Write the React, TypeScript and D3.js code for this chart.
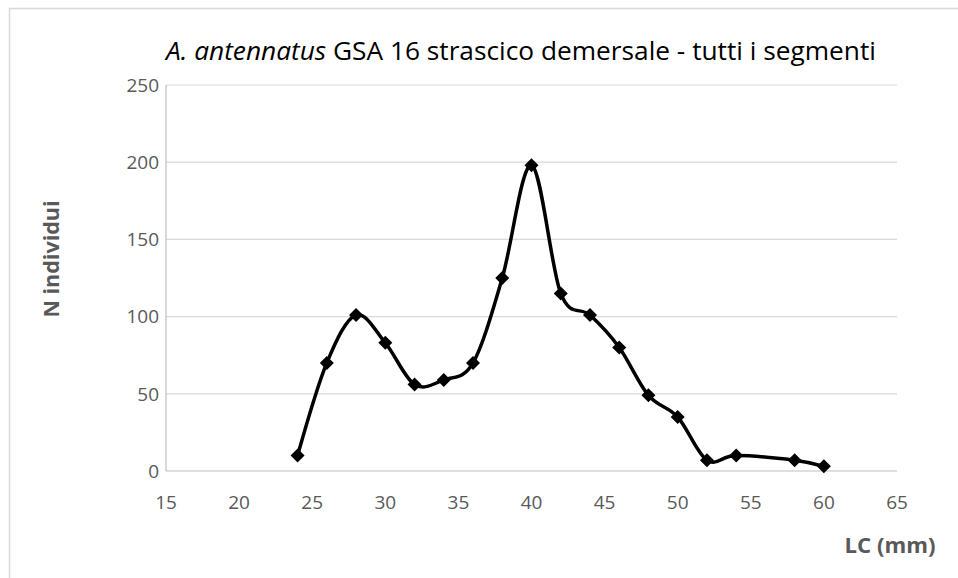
import React from "react";
import * as d3 from "d3";

const lcValues = [24, 26, 28, 30, 32, 34, 36, 38, 40, 42, 44, 46, 48, 50, 52, 54, 58, 60];
const nValues = [10, 70, 101, 83, 56, 59, 70, 125, 198, 115, 101, 80, 49, 35, 7, 10, 7, 3];
const xTicks = [15, 20, 25, 30, 35, 40, 45, 50, 55, 60, 65];
const yTicks = [0, 50, 100, 150, 200, 250];

const W = 958;
const H = 578;
const left = 166;
const right = 897;
const top = 85;
const bottom = 471;
const font = "'Open Sans', 'Liberation Sans', sans-serif";
const gray = "#595959";

export default function App() {
  const x = d3.scaleLinear().domain([15, 65]).range([left, right]);
  const y = d3.scaleLinear().domain([0, 250]).range([bottom, top]);
  const pts: [number, number][] = lcValues.map((v, i) => [v, nValues[i]]);
  const line = d3
    .line<[number, number]>()
    .x((d) => x(d[0]))
    .y((d) => y(d[1]))
    .curve(d3.curveCardinal.tension(0));
  const diamond = d3.symbol().type(d3.symbolDiamond2).size(125)();

  return (
    <svg
      width={W}
      height={H}
      style={{ position: "absolute", left: 0, top: 0, background: "#fff" }}
    >
      <rect x={0} y={0} width={W} height={H} fill="#fff" />
      <rect x={9.5} y={8.5} width={W + 20} height={H + 20} fill="none" stroke="#d9d9d9" strokeWidth={1.5} />
      {/* gridlines */}
      {yTicks.map((t) =>
        t === 0 ? null : (
          <line key={t} x1={left} x2={right} y1={y(t)} y2={y(t)} stroke="#d9d9d9" strokeWidth={1.2} />
        )
      )}
      {/* axes */}
      <line x1={left} x2={left} y1={top} y2={bottom} stroke="#bfbfbf" strokeWidth={1.2} />
      <line x1={left} x2={right} y1={bottom} y2={bottom} stroke="#bfbfbf" strokeWidth={1.2} />
      {/* y tick labels */}
      {yTicks.map((t) => (
        <text
          key={t}
          x={left - 7}
          y={y(t)}
          dy="0.36em"
          textAnchor="end"
          fontFamily={font}
          fontSize={19}
          fill={gray}
        >
          {t}
        </text>
      ))}
      {/* x tick labels */}
      {xTicks.map((t) => (
        <text
          key={t}
          x={x(t)}
          y={502}
          dy="0.36em"
          textAnchor="middle"
          fontFamily={font}
          fontSize={19}
          fill={gray}
        >
          {t}
        </text>
      ))}
      {/* series */}
      <path d={line(pts) || ""} fill="none" stroke="#000" strokeWidth={3.5} />
      {pts.map((p, i) => (
        <path key={i} d={diamond || ""} transform={`translate(${x(p[0])},${y(p[1])})`} fill="#000" />
      ))}
      {/* title */}
      <text
        x={521}
        y={51}
        dy="0.36em"
        textAnchor="middle"
        fontFamily={font}
        fontSize={25}
        fill="#000"
        textLength={710}
        lengthAdjust="spacingAndGlyphs"
      >
        <tspan fontStyle="italic">A. antennatus</tspan>
        <tspan> GSA 16 strascico demersale - tutti i segmenti</tspan>
      </text>
      {/* axis titles */}
      <text
        transform={`translate(51,259) rotate(-90)`}
        dy="0.36em"
        textAnchor="middle"
        fontFamily={font}
        fontSize={21}
        fontWeight="bold"
        fill={gray}
        textLength={117}
        lengthAdjust="spacingAndGlyphs"
      >
        N individui
      </text>
      <text
        x={890}
        y={545}
        dy="0.36em"
        textAnchor="middle"
        fontFamily={font}
        fontSize={21}
        fontWeight="bold"
        fill={gray}
        textLength={91}
        lengthAdjust="spacingAndGlyphs"
      >
        LC (mm)
      </text>
    </svg>
  );
}
